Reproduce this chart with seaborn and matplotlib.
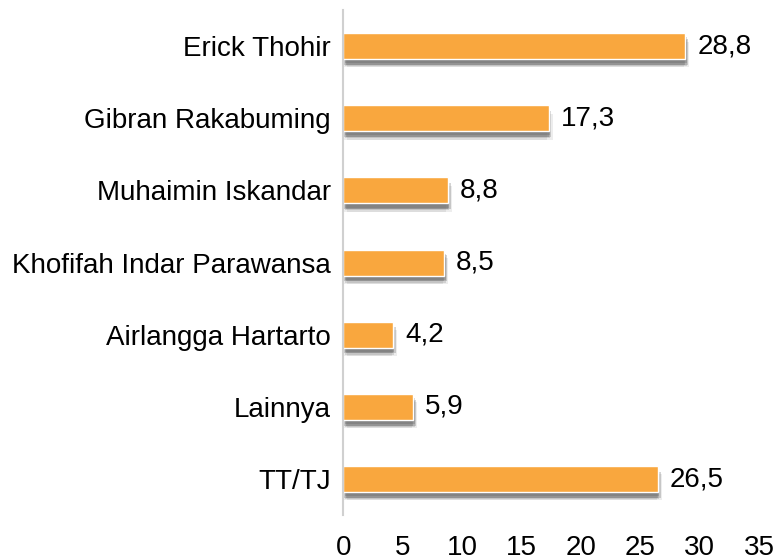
import pandas as pd
import matplotlib
matplotlib.use("Agg")
import matplotlib.pyplot as plt
import matplotlib.patheffects as pe
import seaborn as sns

# data
names = ["Erick Thohir", "Gibran Rakabuming", "Muhaimin Iskandar",
         "Khofifah Indar Parawansa", "Airlangga Hartarto", "Lainnya", "TT/TJ"]
values = [28.8, 17.3, 8.8, 8.5, 4.2, 5.9, 26.5]
labels = ["28,8", "17,3", "8,8", "8,5", "4,2", "5,9", "26,5"]

df = pd.DataFrame({"name": names, "value": values})

sns.set_style("white")
plt.rcParams['font.family'] = ['Liberation Sans', 'DejaVu Sans']

fig, ax = plt.subplots(figsize=(7.8, 5.6), dpi=100)
fig.subplots_adjust(left=0.44, right=0.973, top=0.982, bottom=0.08)

sns.barplot(data=df, x="value", y="name", color="#F9A73E", width=0.36,
            saturation=1, ax=ax)

# blurred-looking drop shadow: a few offset grey copies stacked
shadow = []
for dx, dy, a in [(-1, -6, 0.10), (3, -6, 0.10), (1, -5, 0.18),
                  (0, -4, 0.25), (2, -4, 0.25), (1, -3, 0.25)]:
    shadow.append(pe.SimplePatchShadow(offset=(dx, dy), shadow_rgbFace="#555555",
                                       alpha=a))
for bar in ax.patches:
    bar.set_path_effects(shadow + [pe.Normal()])

for bar, lab in zip(ax.patches, labels):
    ax.text(bar.get_width() + 1.0, bar.get_y() + bar.get_height() / 2, lab,
            va="center", ha="left", fontsize=20, color="#000000")

ax.set_xlim(0, 35)
ax.set_xticks(range(0, 36, 5))
ax.set_ylim(6.5, -0.5)
ax.set_xlabel("")
ax.set_ylabel("")
ax.tick_params(axis="y", length=0, pad=9, labelsize=20, labelcolor="#000000")
ax.tick_params(axis="x", length=0, pad=14, labelsize=20, labelcolor="#000000")

for side in ["top", "right", "bottom"]:
    ax.spines[side].set_visible(False)
ax.spines["left"].set_color("#d0d0d0")
ax.spines["left"].set_linewidth(1.5)

plt.savefig("out.png", dpi=100)
